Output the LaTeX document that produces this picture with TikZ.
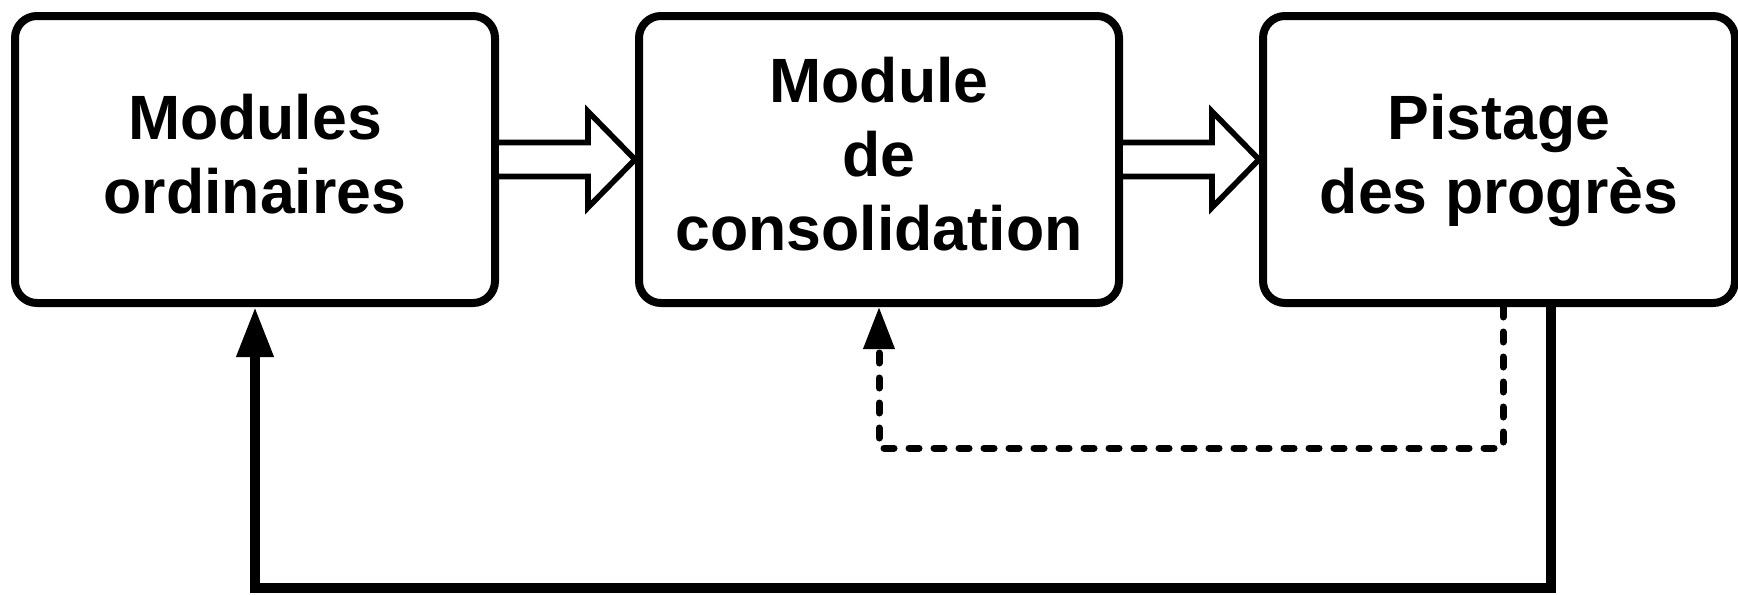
\documentclass[tikz,border=0pt]{standalone}
\usepackage{fontspec}
\setmainfont{Liberation Sans}
\usetikzlibrary{arrows.meta,positioning}

\begin{document}
\begin{tikzpicture}[node distance=68pt,align=center,
		module/.style={draw,line width=4pt,rounded corners=11pt,minimum width=240pt,minimum height=143.5pt,inner sep=0pt,text depth=6pt,font=\fontsize{31.3pt}{37pt}\selectfont\bfseries},
		blockarrow/.style={draw,fill=white,line width=2.8pt,line join=miter},
		loopback/.style={line width=5pt,-{Triangle[length=25pt,width=17.5pt]}},
		recheck/.style={line width=3.5pt,dash pattern=on 5pt off 7.5pt,line cap=round,-{Triangle[length=21pt,width=15pt]}}]
		\useasboundingbox (0,0) rectangle (869pt,-297pt);
		\node[module] (ordin) at (127.5pt,-79.75pt) {Modules\\ordinaires};
		\node[module] [right=of ordin] (consol) {Module\\de\\consolidation};
		\node[module,minimum width=236pt] [right=of consol] (track) {Pistage\\des progrès};
		\foreach \a/\b in {ordin/consol,consol/track}
			\draw[blockarrow] ([yshift=8.5pt]\a.east) -- ([xshift=-23.5pt,yshift=8.5pt]\b.west)
				-- ([xshift=-23.5pt,yshift=24pt]\b.west) -- (\b.west)
				-- ([xshift=-23.5pt,yshift=-24pt]\b.west) -- ([xshift=-23.5pt,yshift=-8.5pt]\b.west)
				-- ([yshift=-8.5pt]\a.east);
		\draw[recheck] ([xshift=2pt]track.south) -- ++(0,-70.5pt) -| (consol.south);
		\draw[loopback] ([xshift=26pt]track.south) -- ++(0,-140.5pt) -| (ordin.south);
	\end{tikzpicture}
\end{document}
